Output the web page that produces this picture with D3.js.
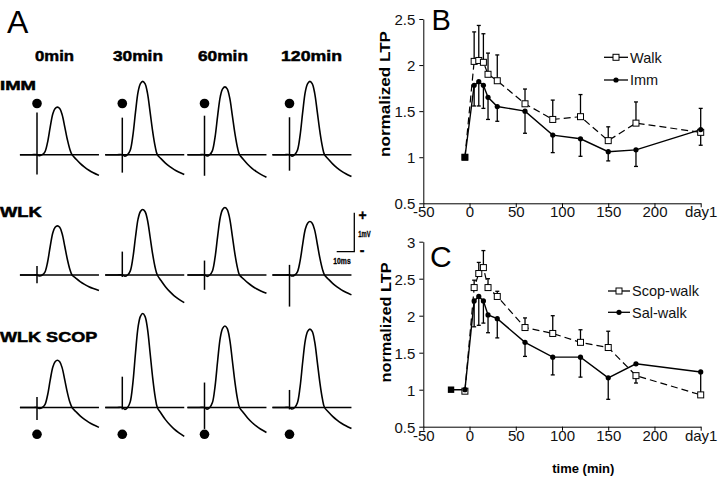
<!DOCTYPE html>
<html><head><meta charset="utf-8">
<script src="https://cdn.jsdelivr.net/npm/d3@7"></script>
<style>body{margin:0;background:#fff} svg{display:block}</style>
</head><body><svg id="c" width="720" height="478"></svg>
<script>
// ---------- Panel A data ----------
const timeLabels = ["0min", "30min", "60min", "120min"];
const groupLabels = ["IMM", "WLK", "WLK SCOP"];
const epspAmp = [[1.22, 1.88, 1.74, 1.88], [1.26, 1.68, 1.73, 1.37], [1.21, 2.41, 2.09, 2.01]]; // mV
const epspUndershoot = [[0.53, 0.51, 0.58, 0.56], [0.40, 0.71, 0.47, 0.51], [0.51, 0.74, 0.64, 0.54]]; // mV
const artifactUp = [[1.08, 0.95, 1.0, 0.96], [0.23, 0.60, 0.37, 0.26], [0.27, 0.79, 0.64, 0.45]];
const artifactDown = [[0.51, 0.46, 0.54, 0.41], [0.21, 0.05, 0.38, 0.81], [0.32, 0.05, 0.55, 0.05]];
// waveform template: [ms after stimulus, fraction of peak]
const humpShape = [[0, 0], [1.5, -0.02], [3, 0], [4.5, 0.06], [6, 0.26], [7.5, 0.58], [9, 0.86], [10.3, 0.97], [11.6, 1], [12.9, 0.97], [14.3, 0.84], [15.8, 0.58], [17.3, 0.31], [18.7, 0.11], [19.9, 0]];
// [ms, fraction of undershoot]
const tailShape = [[22, 0.2], [24.5, 0.42], [27, 0.6], [29.5, 0.75], [32, 0.87], [35.2, 1]];

// ---------- Panel B data ----------
const timesB = [-5, 5, 10, 15, 20, 30, 60, 90, 120, 150, 180, 250];
const walk = [1.0, 2.04, 2.05, 2.03, 1.90, 1.83, 1.58, 1.41, 1.44, 1.18, 1.37, 1.27];
const walkErr = [null, 2.36, 2.43, 2.34, 2.13, 2.11, 1.74, 1.62, 1.68, 1.33, 1.60, 1.13];
const imm = [1.0, 1.78, 1.82, 1.78, 1.65, 1.55, 1.50, 1.24, 1.20, 1.06, 1.08, 1.30];
const immErr = [null, 1.556, 1.556, 1.53, 1.41, 1.39, 1.26, 1.05, 1.01, 0.96, 0.90, 1.53];

// ---------- Panel C data ----------
const timesScop = [-5, 5, 10, 15, 20, 30, 60, 90, 120, 150, 180, 250];
const scopWalk = [0.98, 2.38, 2.57, 2.65, 2.38, 2.26, 1.84, 1.76, 1.64, 1.57, 1.19, 0.93];
const scopErr = [null, 2.48, 2.72, 2.88, 2.5, 2.33, 1.97, 2.0, 1.81, 1.79, 1.09, null];
const timesSal = [-20, -5, 5, 10, 15, 20, 30, 60, 90, 120, 150, 180, 250];
const salWalk = [1.0, 1.0, 2.2, 2.26, 2.2, 2.01, 1.96, 1.64, 1.44, 1.44, 1.16, 1.35, 1.24];
const salErr = [null, null, 1.85, 1.87, 1.9, 1.77, 1.70, 1.45, 1.20, 1.17, 0.87, null, 0.95];

const xTicks = [-50, 0, 50, 100, 150, 200, 250];
const xTickLabels = ["-50", "0", "50", "100", "150", "200", "day1"];
const yTicksB = [0.5, 1, 1.5, 2, 2.5];
const yTicksC = [0.5, 1, 1.5, 2, 2.5, 3];

// ---------- drawing ----------
const FONT = "'Liberation Sans', Arial, Helvetica, sans-serif";
const svg = d3.select("#c");

// Panel letters
svg.append("text").attr("x", 7).attr("y", 33).attr("font-family", FONT).attr("font-size", 32).text("A");
svg.append("text").attr("x", 431.5).attr("y", 30).attr("font-family", FONT).attr("font-size", 29).text("B");
svg.append("text").attr("x", 430).attr("y", 266.5).attr("font-family", FONT).attr("font-size", 30).text("C");

// ---- Panel A ----
const colX = [37, 122.3, 204.5, 289.5];
const colHeadX = [[35, 39], [113, 50], [198, 50], [281, 61]];
const rowBase = [154.7, 275, 407.5];
const rowLab = [[90, 13, 36], [216.7, 14, 41.7], [341.7, 15, 97.3]];
const msPx = 1.76, mvPx = 39;

timeLabels.forEach((t, i) => {
  svg.append("text").attr("x", colHeadX[i][0]).attr("y", 61)
    .attr("font-family", FONT).attr("font-weight", "bold").attr("font-size", 15.5)
    .attr("stroke", "#000").attr("stroke-width", 0.5)
    .attr("textLength", colHeadX[i][1]).attr("lengthAdjust", "spacingAndGlyphs").text(t);
});
groupLabels.forEach((g, i) => {
  svg.append("text").attr("x", 0).attr("y", rowLab[i][0])
    .attr("font-family", FONT).attr("font-weight", "bold").attr("font-size", rowLab[i][1])
    .attr("stroke", "#000").attr("stroke-width", 0.5)
    .attr("textLength", rowLab[i][2]).attr("lengthAdjust", "spacingAndGlyphs").text(g);
});

const gA = svg.append("g").attr("fill", "none").attr("stroke", "#000").attr("stroke-width", 1.6);
groupLabels.forEach((g, r) => {
  timeLabels.forEach((t, c) => {
    const x = d3.scaleLinear().domain([0, 10]).range([colX[c], colX[c] + 10 * msPx]);
    const y = d3.scaleLinear().domain([0, 1]).range([rowBase[r], rowBase[r] - mvPx]);
    const amp = epspAmp[r][c], dep = epspUndershoot[r][c];
    const pts = [[-9.7, 0], [-3, 0]]
      .concat(humpShape.map(d => [d[0], d[1] * amp]))
      .concat(tailShape.map(d => [d[0], -d[1] * dep]));
    gA.append("line").attr("x1", x(-9.7)).attr("x2", x(35.2)).attr("y1", y(0)).attr("y2", y(0)).attr("stroke-width", 1.5);
    gA.append("line").attr("x1", x(0)).attr("x2", x(0)).attr("y1", y(artifactUp[r][c])).attr("y2", y(-artifactDown[r][c])).attr("stroke-width", 1.5);
    gA.append("path").attr("d", d3.line().x(d => x(d[0])).y(d => y(d[1])).curve(d3.curveCatmullRom)(pts));
  });
});
// stimulus dots
[[0, 103.5], [2, 434.3]].forEach(([r, yy]) => {
  colX.forEach(cx => svg.append("circle").attr("cx", cx).attr("cy", yy).attr("r", 4.8).attr("fill", "#000"));
});
// scale bar
{
  const sx = 354.3, sy = 251.7;
  svg.append("path").attr("d", `M${sx},${sy - mvPx}V${sy}H${sx - 10 * msPx}`)
    .attr("fill", "none").attr("stroke", "#000").attr("stroke-width", 1.3);
  const sb = [["+", 358.5, 220, 14, null], ["1mV", 358.3, 236.7, 9, 12.4], ["-", 359.8, 254.5, 14, null], ["10ms", 333.3, 264, 9, 17.4]];
  sb.forEach(([t, xx, yy, fs, len]) => {
    const tx = svg.append("text").attr("x", xx).attr("y", yy).attr("font-family", FONT)
      .attr("font-weight", "bold").attr("font-size", fs).attr("stroke", "#000").attr("stroke-width", 0.3).text(t);
    if (len) tx.attr("textLength", len).attr("lengthAdjust", "spacingAndGlyphs");
  });
}

// ---- Panels B & C ----
function drawPanel(opts) {
  const x = d3.scaleLinear().domain([-50, 250]).range([423.3, 700.7]);
  const y = d3.scaleLinear().domain(opts.yDomain).range(opts.yRange);
  const g = svg.append("g");
  const ya = g.append("g").attr("transform", `translate(423.3,0)`)
    .call(d3.axisLeft(y).tickValues(opts.yTicks).tickFormat(d => String(d)).tickSize(4).tickSizeOuter(0).tickPadding(4));
  const xa = g.append("g").attr("transform", `translate(0,${opts.yRange[0]})`)
    .call(d3.axisBottom(x).tickValues(xTicks).tickFormat((d, i) => xTickLabels[i]).tickSize(4).tickSizeOuter(0).tickPadding(0));
  [ya, xa].forEach(a => {
    a.selectAll("path, line").attr("stroke", "#000").attr("stroke-width", 1);
    a.selectAll("text").attr("font-family", FONT).attr("font-size", 15).attr("fill", "#111");
  });
  ya.selectAll("text").attr("dy", "0.36em");
  xa.selectAll("text").attr("dy", "0.68em");

  g.append("text").attr("transform", `translate(${opts.ylabX},${opts.ylabY}) rotate(-90)`)
    .attr("text-anchor", "middle").attr("font-family", FONT).attr("font-weight", "bold")
    .attr("font-size", 14.5).attr("textLength", opts.ylabLen).attr("lengthAdjust", "spacingAndGlyphs")
    .text("normalized LTP");

  opts.series.forEach(s => {
    const pts = s.t.map((t, i) => ({ t, v: s.v[i], e: s.e[i], i }));
    pts.filter(p => p.e != null).forEach(p => {
      g.append("line").attr("x1", x(p.t)).attr("x2", x(p.t)).attr("y1", y(p.v)).attr("y2", y(p.e))
        .attr("stroke", "#000").attr("stroke-width", 1.3);
      g.append("line").attr("x1", x(p.t) - 2).attr("x2", x(p.t) + 2).attr("y1", y(p.e)).attr("y2", y(p.e))
        .attr("stroke", "#000").attr("stroke-width", 1.3);
    });
    g.append("path").attr("d", d3.line().x(p => x(p.t)).y(p => y(p.v))(pts))
      .attr("fill", "none").attr("stroke", "#000").attr("stroke-width", s.dashed ? 1.2 : 1.4)
      .attr("stroke-dasharray", s.dashed ? "7,4" : null);
    s.pts = pts;
  });
  opts.series.forEach(s => {
    s.pts.forEach(p => {
      if (s.open) {
        g.append("rect").attr("x", x(p.t) - 3).attr("y", y(p.v) - 3).attr("width", 6).attr("height", 6)
          .attr("fill", "#fff").attr("stroke", "#000").attr("stroke-width", 1);
      } else if (p.i === 0) {
        g.append("rect").attr("x", x(p.t) - 3.2).attr("y", y(p.v) - 3.2).attr("width", 6.4).attr("height", 6.4).attr("fill", "#000");
      } else {
        g.append("circle").attr("cx", x(p.t)).attr("cy", y(p.v)).attr("r", 2.6).attr("fill", "#000");
      }
    });
  });
  opts.series.forEach((s, k) => {
    const ly = opts.legY[k];
    g.append("line").attr("x1", opts.legX[0]).attr("x2", opts.legX[1]).attr("y1", ly).attr("y2", ly)
      .attr("stroke", "#000").attr("stroke-width", 1.3);
    const mx = (opts.legX[0] + opts.legX[1]) / 2;
    if (s.open) g.append("rect").attr("x", mx - 3).attr("y", ly - 3).attr("width", 6).attr("height", 6)
      .attr("fill", "#fff").attr("stroke", "#000").attr("stroke-width", 1);
    else g.append("circle").attr("cx", mx).attr("cy", ly).attr("r", 2.6).attr("fill", "#000");
    g.append("text").attr("x", opts.legX[1] + 2).attr("y", ly + 5.3).attr("font-family", FONT)
      .attr("font-size", 14.5).attr("fill", "#111").text(s.name);
  });
  return g;
}

drawPanel({
  yDomain: [0.5, 2.5], yRange: [203.3, 19], yTicks: yTicksB,
  ylabX: 390, ylabY: 94, ylabLen: 126,
  legX: [604, 628], legY: [57.3, 80],
  series: [
    { name: "Walk", t: timesB, v: walk, e: walkErr, dashed: true, open: true },
    { name: "Imm", t: timesB, v: imm, e: immErr, dashed: false, open: false }
  ]
});
drawPanel({
  yDomain: [0.5, 3], yRange: [426.7, 241.7], yTicks: yTicksC,
  ylabX: 390.5, ylabY: 322.5, ylabLen: 120,
  legX: [608, 630], legY: [291, 312.3],
  series: [
    { name: "Scop-walk", t: timesScop, v: scopWalk, e: scopErr, dashed: true, open: true },
    { name: "Sal-walk", t: timesSal, v: salWalk, e: salErr, dashed: false, open: false }
  ]
});
svg.append("text").attr("x", 583.3).attr("y", 472.5).attr("text-anchor", "middle")
  .attr("font-family", FONT).attr("font-weight", "bold").attr("font-size", 13).text("time (min)");
</script>
</body></html>
